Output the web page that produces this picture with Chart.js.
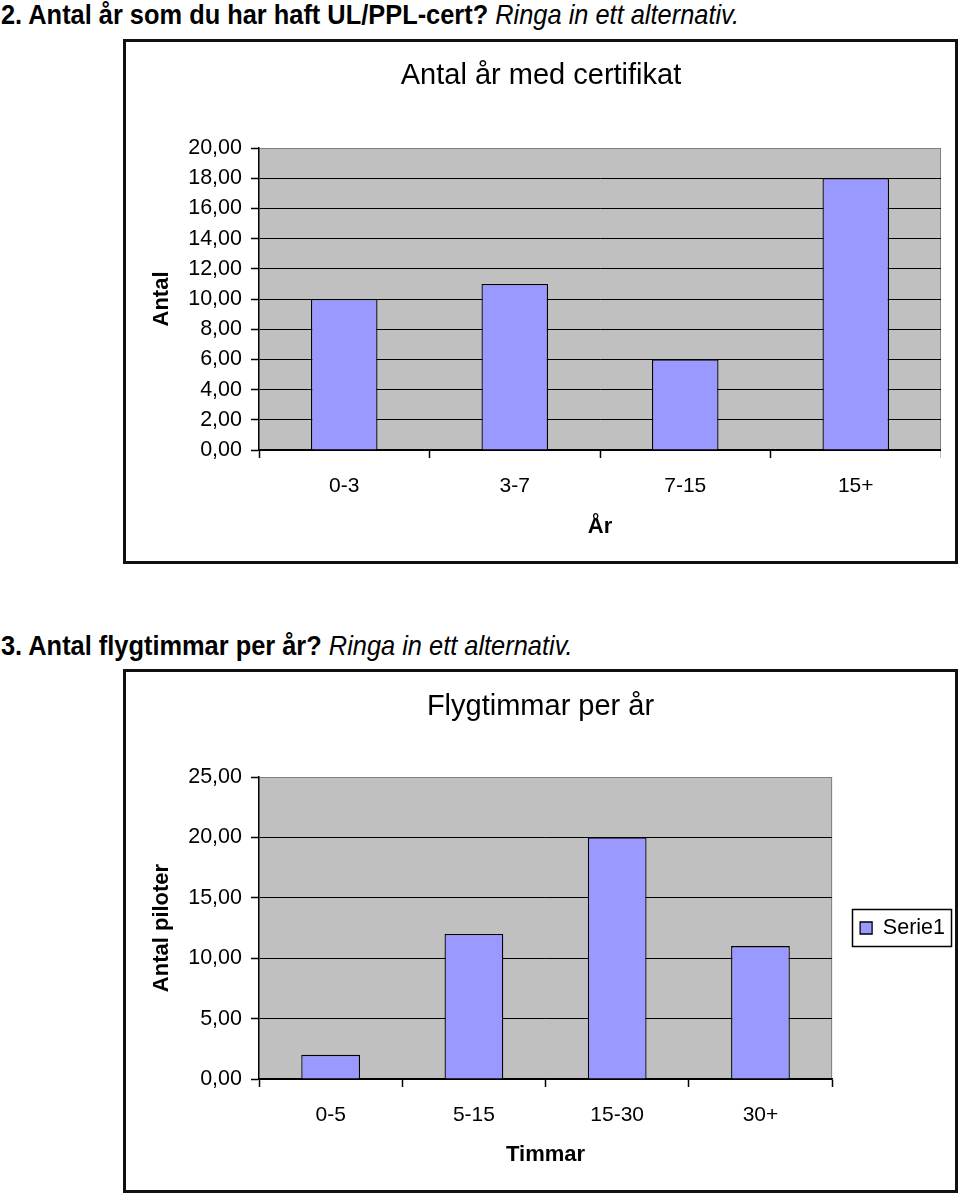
<!DOCTYPE html>
<html>
<head>
<meta charset="utf-8">
<script src="https://cdn.jsdelivr.net/npm/chart.js@4/dist/chart.umd.min.js"></script>
<style>
    html, body { margin: 0; padding: 0; background: #fff; }
    body { width: 960px; height: 1196px; position: relative; overflow: hidden;
           font-family: "Liberation Sans", Arial, sans-serif; color: #000; }
    .q { position: absolute; left: 1px; font-size: 25.4px; line-height: 28px; font-weight: bold; white-space: nowrap;
         transform: scaleY(1.08); transform-origin: 0 50%; }
    .q i { font-weight: normal; }
    .box { position: absolute; left: 123px; width: 835px; box-sizing: border-box; border: 3px solid #111; background: #fff; }
    .box canvas { display: block; }
</style>
</head>
<body>
<div class="q" style="top:0px">2. Antal år som du har haft UL/PPL-cert? <i>Ringa in ett alternativ.</i></div>
<div class="box" style="top:39px;height:525px"><canvas id="certChart" width="800" height="519" style="margin-left:15px"></canvas></div>
<div class="q" style="top:631px">3. Antal flygtimmar per år? <i>Ringa in ett alternativ.</i></div>
<div class="box" style="top:669px;height:524px"><canvas id="hourChart" width="829" height="518"></canvas></div>
<script>
// data
const certCategories = ['0-3', '3-7', '7-15', '15+'];
const certValues = [10, 11, 6, 18];
const certYTicks = [0, 2, 4, 6, 8, 10, 12, 14, 16, 18, 20];

const hourCategories = ['0-5', '5-15', '15-30', '30+'];
const hourValues = [2, 12, 20, 11];
const hourYTicks = [0, 5, 10, 15, 20, 25];
const hourSeriesName = 'Serie1';

(function () {
    'use strict';

    const FONT = '"Liberation Sans", Arial, sans-serif';
    Chart.defaults.font.family = FONT;
    Chart.defaults.color = '#000';

    // gray plot area + legend frame
    const plotArea = {
        id: 'plotArea',
        beforeDraw: function (chart) {
            const a = chart.chartArea;
            const ctx = chart.ctx;
            ctx.save();
            ctx.fillStyle = '#c0c0c0';
            ctx.fillRect(a.left, a.top, a.right - a.left, a.bottom - a.top);
            ctx.strokeStyle = '#808080';
            ctx.lineWidth = 1;
            ctx.beginPath();
            ctx.moveTo(a.left, a.top + 0.5);
            ctx.lineTo(a.right - 0.5, a.top + 0.5);
            ctx.lineTo(a.right - 0.5, a.bottom);
            ctx.stroke();
            ctx.restore();
        },
        afterDraw: function (chart) {
            const legend = chart.legend;
            if (!legend || !legend.options.display || !legend.legendHitBoxes.length) return;
            const hb = legend.legendHitBoxes[0];
            const ctx = chart.ctx;
            ctx.save();
            ctx.strokeStyle = '#000';
            ctx.lineWidth = 1.5;
            ctx.strokeRect(Math.round(hb.left - 8) + 0.5, Math.round(hb.top - 8) + 0.5,
                Math.round(hb.width + 14), Math.round(hb.height + 15));
            ctx.restore();
        }
    };

    function fmt(v) {
        return Number(v).toFixed(2).replace('.', ',');
    }

    function buildOptions(cfg) {
        return {
            responsive: false,
            animation: false,
            devicePixelRatio: 1,
            layout: { padding: 0 },
            plugins: {
                title: {
                    display: true,
                    text: cfg.title,
                    font: { size: 29, weight: 'normal', family: FONT },
                    color: '#000',
                    padding: { top: cfg.titleTop, bottom: cfg.titleBottom }
                },
                legend: cfg.legend,
                tooltip: { enabled: false }
            },
            scales: {
                x: {
                    grid: {
                        display: true,
                        offset: true,
                        drawOnChartArea: false,
                        drawTicks: true,
                        tickLength: 8,
                        tickColor: '#000',
                        tickWidth: 1.5
                    },
                    border: { display: true, color: '#000', width: 1.5 },
                    ticks: { font: { size: 21, family: FONT }, color: '#000', padding: 16, maxRotation: 0 },
                    title: {
                        display: true,
                        text: cfg.xTitle,
                        font: { size: 22, weight: 'bold', family: FONT },
                        color: '#000',
                        padding: { top: 0, bottom: cfg.xTitleBottom }
                    },
                    afterFit: function (scale) { scale.height = 111; }
                },
                y: {
                    min: cfg.yTicks[0],
                    max: cfg.yTicks[cfg.yTicks.length - 1],
                    afterBuildTicks: function (scale) {
                        scale.ticks = cfg.yTicks.map(function (v) { return { value: v }; });
                    },
                    grid: {
                        color: function (c) {
                            return c.tick && c.tick.value === cfg.yTicks[cfg.yTicks.length - 1] ? '#808080' : '#000';
                        },
                        lineWidth: 1,
                        tickColor: '#000',
                        tickLength: 8,
                        tickWidth: 1.5
                    },
                    border: { display: true, color: '#000', width: 1.5 },
                    ticks: {
                        font: { size: 21.5, family: FONT },
                        color: '#000',
                        padding: 9,
                        callback: function (v) { return fmt(v); }
                    },
                    title: {
                        display: true,
                        text: cfg.yTitle,
                        font: { size: 22, weight: 'bold', family: FONT },
                        color: '#000',
                        padding: { top: cfg.yTitleTop, bottom: 0 }
                    },
                    afterFit: function (scale) { scale.width = cfg.yWidth; }
                }
            }
        };
    }

    function barDataset(label, values, pct) {
        return {
            label: label,
            data: values,
            backgroundColor: '#9999ff',
            borderColor: '#000',
            borderWidth: 1.3,
            categoryPercentage: 1,
            barPercentage: pct
        };
    }

    new Chart(document.getElementById('certChart'), {
        type: 'bar',
        data: {
            labels: certCategories,
            datasets: [barDataset('Serie1', certValues, 0.39)]
        },
        options: buildOptions({
            title: 'Antal år med certifikat',
            titleTop: 17,
            titleBottom: 54.2,
            xTitle: 'År',
            xTitleBottom: 21,
            yTitle: 'Antal',
            yTitleTop: 7.5,
            yWidth: 118,
            yTicks: certYTicks,
            legend: { display: false }
        }),
        plugins: [plotArea]
    });

    new Chart(document.getElementById('hourChart'), {
        type: 'bar',
        data: {
            labels: hourCategories,
            datasets: [barDataset(hourSeriesName, hourValues, 0.41)]
        },
        options: buildOptions({
            title: 'Flygtimmar per år',
            titleTop: 17.6,
            titleBottom: 52.6,
            xTitle: 'Timmar',
            xTitleBottom: 22,
            yTitle: 'Antal piloter',
            yTitleTop: 22.5,
            yWidth: 133,
            yTicks: hourYTicks,
            legend: {
                display: true,
                position: 'right',
                fullSize: false,
                align: 'center',
                labels: {
                    boxWidth: 12,
                    boxHeight: 12,
                    padding: 28,
                    color: '#000',
                    font: { size: 21.5, family: FONT }
                }
            }
        }),
        plugins: [plotArea]
    });
})();
</script>
</body>
</html>
